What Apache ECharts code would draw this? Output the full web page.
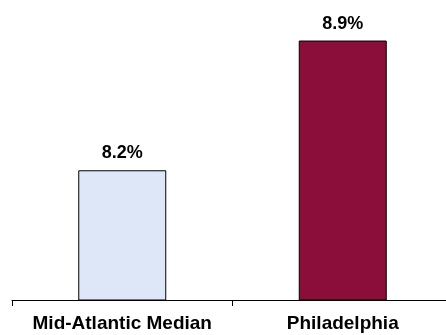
<!DOCTYPE html>
<html>
<head>
<meta charset="utf-8">
<script src="https://cdn.jsdelivr.net/npm/echarts@6/dist/echarts.min.js"></script>
<style>
  html, body { margin: 0; padding: 0; background: #ffffff; }
  #chart { width: 446px; height: 335px; }
</style>
</head>
<body>
<div id="chart"></div>
<script>
// Regions compared and their rates (percent)
const categories = ['Mid-Atlantic Median', 'Philadelphia'];
const rates = [8.2, 8.9];
const barColors = ['#dee7f7', '#8b0e3a'];

// Value axis floor/ceiling (axis itself is hidden)
const axisMin = 7.5;
const axisMax = 9.0;

const chart = echarts.init(document.getElementById('chart'), null, { renderer: 'canvas' });

chart.setOption({
  animation: false,
  backgroundColor: '#ffffff',
  grid: { left: 12, width: 441, top: 22, bottom: 35, containLabel: false, outerBoundsMode: 'none' },
  xAxis: {
    type: 'category',
    data: categories,
    boundaryGap: true,
    axisLine: { show: true, lineStyle: { color: '#000000', width: 1 } },
    axisTick: { show: true, interval: 0, length: 6, lineStyle: { color: '#000000', width: 1 } },
    axisLabel: {
      interval: 0,
      hideOverlap: false,
      margin: 14,
      color: '#000000',
      fontFamily: 'Liberation Sans, Arial, sans-serif',
      fontWeight: 'bold',
      fontSize: 19
    }
  },
  yAxis: {
    type: 'value',
    min: axisMin,
    max: axisMax,
    show: false,
    splitLine: { show: false }
  },
  series: [{
    type: 'bar',
    barWidth: 88,
    data: rates.map((v, i) => ({
      value: v,
      itemStyle: { color: barColors[i], borderColor: '#000000', borderWidth: 1 }
    })),
    label: {
      show: true,
      position: 'top',
      distance: 8,
      color: '#000000',
      fontFamily: 'Liberation Sans, Arial, sans-serif',
      fontWeight: 'bold',
      fontSize: 18,
      formatter: p => p.value.toFixed(1) + '%'
    }
  }]
});
</script>
</body>
</html>
